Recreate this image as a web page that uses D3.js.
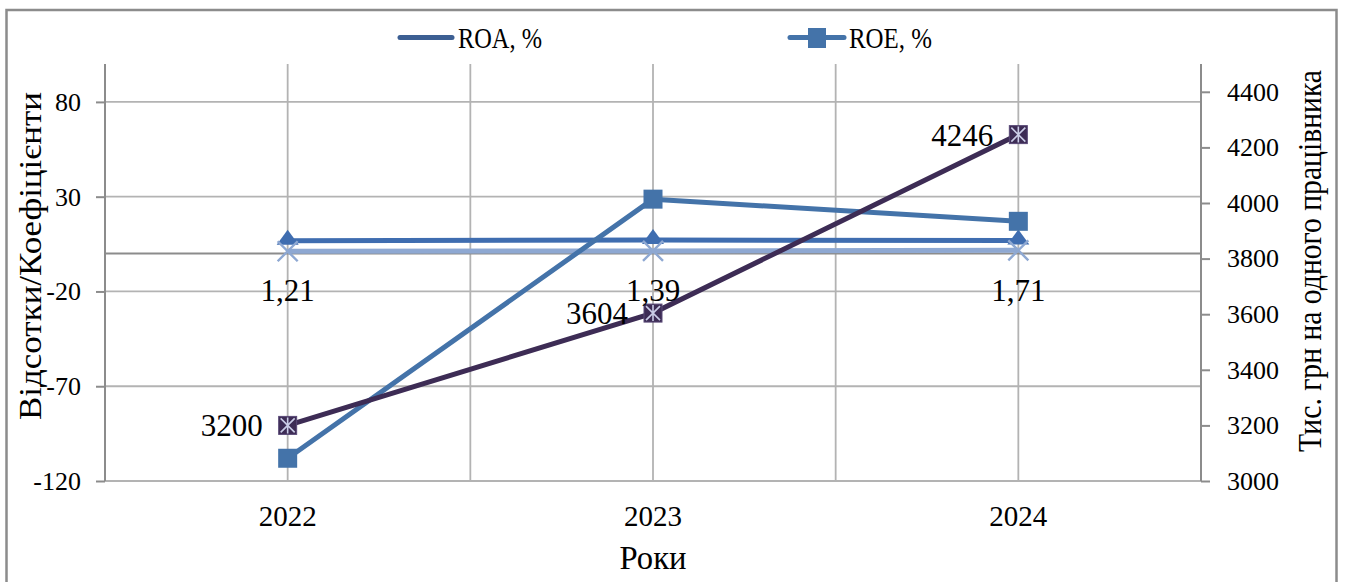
<!DOCTYPE html>
<html>
<head>
<meta charset="utf-8">
<script src="https://cdn.jsdelivr.net/npm/d3@7"></script>
<style>
  html, body { margin: 0; padding: 0; background: #fff; }
  svg { display: block; }
  text { font-family: "Liberation Serif", "Times New Roman", serif; fill: #000; }
</style>
</head>
<body>
<svg id="chart" width="1345" height="582"></svg>
<script>
// Years on the category axis
const years = ["2022", "2023", "2024"];

// Left-axis series (percent / coefficients)
const roa = [6.8, 7.1, 6.9];
const roe = [-108, 28.7, 17];
const coefficient = [1.21, 1.39, 1.71];
const coefficientLabels = ["1,21", "1,39", "1,71"];

// Right-axis series (thousand UAH per employee)
const productivity = [3200, 3604, 4246];

// Axis ticks
const leftTicks = [-120, -70, -20, 30, 80];
const rightTicks = [3000, 3200, 3400, 3600, 3800, 4000, 4200, 4400];

// Text
const leftTitle = "Відсотки/Коефіцієнти";
const rightTitle = "Тис. грн на одного працівника";
const xTitle = "Роки";
const legendNames = ["ROA, %", "ROE, %"];

const svg = d3.select("#chart");

const plot = { left: 105, right: 1201, top: 64, bottom: 481 };

const x = d3.scaleBand().domain(years).range([plot.left, plot.right]).padding(0);
const xc = d => x(d) + x.bandwidth() / 2;
const yL = d3.scaleLinear().domain([-120, 100]).range([plot.bottom, plot.top]);
const yR = d3.scaleLinear().domain([3000, 4500]).range([plot.bottom, plot.top]);

const gridColor = "#b3b3b3";
const axisColor = "#8c8c8c";

// Plain hyphen for negative tick values
const fmt = d => (d < 0 ? "-" : "") + Math.abs(d);

// Outer frame
svg.append("rect")
  .attr("x", 6.5).attr("y", 10).attr("width", 1330).attr("height", 600)
  .attr("fill", "none").attr("stroke", "#8c8c8c").attr("stroke-width", 2.5);

// Horizontal gridlines
svg.append("g").selectAll("line").data(leftTicks).join("line")
  .attr("x1", plot.left).attr("x2", plot.right)
  .attr("y1", d => yL(d)).attr("y2", d => yL(d))
  .attr("stroke", gridColor).attr("stroke-width", 1.8);

// Vertical gridlines: band edges and category centres
const vLines = [];
years.forEach((d, i) => { if (i > 0) vLines.push(x(d)); vLines.push(xc(d)); });
svg.append("g").selectAll("line").data(vLines).join("line")
  .attr("x1", d => d).attr("x2", d => d)
  .attr("y1", plot.top).attr("y2", plot.bottom)
  .attr("stroke", gridColor).attr("stroke-width", 1.8);

// Left axis
const leftAxis = d3.axisLeft(yL).tickValues(leftTicks).tickSize(9).tickPadding(15).tickFormat(fmt);
const gL = svg.append("g").attr("transform", `translate(${plot.left},0)`).call(leftAxis);
gL.select(".domain").attr("d", `M-0,${plot.top}V${plot.bottom}`);

// Right axis
const rightAxis = d3.axisRight(yR).tickValues(rightTicks).tickSize(9).tickPadding(17).tickFormat(fmt);
const gR = svg.append("g").attr("transform", `translate(${plot.right},0)`).call(rightAxis);
gR.select(".domain").attr("d", `M0,${plot.top}V${plot.bottom}`);

[gL, gR].forEach(g => {
  g.selectAll(".domain").attr("stroke", axisColor).attr("stroke-width", 2);
  g.selectAll(".tick line").attr("stroke", axisColor).attr("stroke-width", 2);
  g.selectAll(".tick text")
    .attr("font-family", "'Liberation Serif', serif")
    .attr("font-size", 26).attr("fill", "#000");
});

// Category axis line at zero
svg.append("line")
  .attr("x1", plot.left).attr("x2", plot.right)
  .attr("y1", yL(0)).attr("y2", yL(0))
  .attr("stroke", axisColor).attr("stroke-width", 2);

// Category labels along the bottom
svg.append("g").selectAll("text").data(years).join("text")
  .attr("x", d => xc(d)).attr("y", 526)
  .attr("text-anchor", "middle")
  .attr("font-size", 30)
  .attr("textLength", 58).attr("lengthAdjust", "spacingAndGlyphs")
  .text(d => d);

// Axis titles
svg.append("text")
  .attr("transform", "translate(41,256) rotate(-90)")
  .attr("text-anchor", "middle").attr("font-size", 31)
  .attr("textLength", 328).attr("lengthAdjust", "spacingAndGlyphs")
  .text(leftTitle);

svg.append("text")
  .attr("transform", "translate(1321,261) rotate(-90)")
  .attr("text-anchor", "middle").attr("font-size", 33)
  .attr("textLength", 382).attr("lengthAdjust", "spacingAndGlyphs")
  .text(rightTitle);

svg.append("text")
  .attr("x", (plot.left + plot.right) / 2).attr("y", 569)
  .attr("text-anchor", "middle").attr("font-size", 33)
  .attr("textLength", 67).attr("lengthAdjust", "spacingAndGlyphs")
  .text(xTitle);

// Series lines
const colors = {
  roa: "#3f6db0",
  roe: "#4473a9",
  coef: "#8ea8d2",
  prod: "#3d2c55",
  legendRoa: "#3c5f93"
};

const lineL = d3.line().x((d, i) => xc(years[i])).y(d => yL(d));
const lineR = d3.line().x((d, i) => xc(years[i])).y(d => yR(d));

svg.append("path").datum(roa).attr("d", lineL)
  .attr("fill", "none").attr("stroke", colors.roa).attr("stroke-width", 5);
svg.append("path").datum(coefficient).attr("d", lineL)
  .attr("fill", "none").attr("stroke", colors.coef).attr("stroke-width", 5);
svg.append("path").datum(roe).attr("d", lineL)
  .attr("fill", "none").attr("stroke", colors.roe).attr("stroke-width", 5)
  .attr("stroke-linejoin", "round");

// ROA triangle markers
svg.append("g").selectAll("path").data(roa).join("path")
  .attr("transform", (d, i) => `translate(${xc(years[i])},${yL(d)})`)
  .attr("d", "M0,-11L11,4L-11,4Z").attr("fill", colors.roa);

// Coefficient cross markers
svg.append("g").selectAll("path").data(coefficient).join("path")
  .attr("transform", (d, i) => `translate(${xc(years[i])},${yL(d)})`)
  .attr("d", "M-10,-10L10,10M-10,10L10,-10")
  .attr("stroke", colors.coef).attr("stroke-width", 2.4);

// ROE square markers
svg.append("g").selectAll("rect").data(roe).join("rect")
  .attr("x", (d, i) => xc(years[i]) - 9.5).attr("y", d => yL(d) - 9.5)
  .attr("width", 19).attr("height", 19)
  .attr("fill", colors.roe);

// Productivity line on the right axis
svg.append("path").datum(productivity).attr("d", lineR)
  .attr("fill", "none").attr("stroke", colors.prod).attr("stroke-width", 5);

const prodMarks = svg.append("g").selectAll("g").data(productivity).join("g")
  .attr("transform", (d, i) => `translate(${xc(years[i])},${yR(d)})`);
prodMarks.append("rect")
  .attr("x", -9).attr("y", -9).attr("width", 18).attr("height", 18)
  .attr("fill", colors.prod).attr("stroke", "#5a4a78").attr("stroke-width", 1);
prodMarks.append("path")
  .attr("d", "M-7,-7L7,7M-7,7L7,-7M0,-8V8")
  .attr("stroke", "#c9cbe6").attr("stroke-width", 1.6);

// Data labels
svg.append("g").selectAll("text").data(productivity).join("text")
  .attr("x", (d, i) => xc(years[i]) - 25)
  .attr("y", d => yR(d) + 11)
  .attr("text-anchor", "end").attr("font-size", 31)
  .text(d => d);

svg.append("g").selectAll("text").data(coefficient).join("text")
  .attr("x", (d, i) => xc(years[i]))
  .attr("y", 301)
  .attr("text-anchor", "middle").attr("font-size", 31)
  .text((d, i) => coefficientLabels[i]);

// Legend
const lg = svg.append("g");
lg.append("line").attr("x1", 400).attr("x2", 452).attr("y1", 37.5).attr("y2", 37.5)
  .attr("stroke", colors.legendRoa).attr("stroke-width", 5).attr("stroke-linecap", "round");
lg.append("text").attr("x", 458).attr("y", 48).attr("font-size", 30)
  .attr("textLength", 84).attr("lengthAdjust", "spacingAndGlyphs")
  .text(legendNames[0]);

lg.append("line").attr("x1", 790).attr("x2", 844).attr("y1", 37.5).attr("y2", 37.5)
  .attr("stroke", colors.roe).attr("stroke-width", 5).attr("stroke-linecap", "round");
lg.append("rect").attr("x", 808).attr("y", 28).attr("width", 18).attr("height", 20)
  .attr("fill", colors.roe);
lg.append("text").attr("x", 849).attr("y", 48).attr("font-size", 30)
  .attr("textLength", 83).attr("lengthAdjust", "spacingAndGlyphs")
  .text(legendNames[1]);
</script>
</body>
</html>
